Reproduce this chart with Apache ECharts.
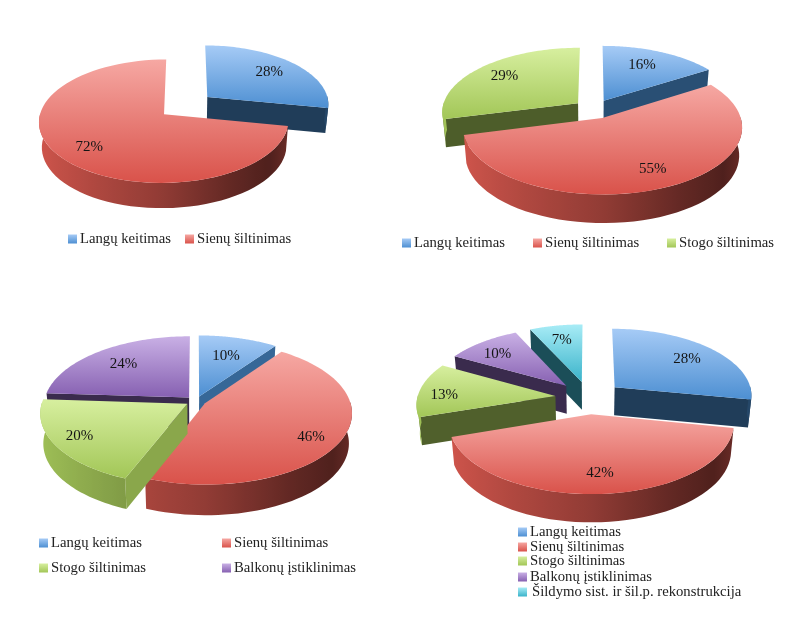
<!DOCTYPE html>
<html>
<head>
<meta charset="utf-8">
<style>html,body{margin:0;padding:0;background:#fff}#c{width:800px;height:621px}</style>
<script src="https://cdn.jsdelivr.net/npm/echarts@6/dist/echarts.min.js"></script>
</head>
<body>
<div id="c"></div>
<script>
// ---- data ----
const categories = ['Langų keitimas', 'Sienų šiltinimas', 'Stogo šiltinimas', 'Balkonų įstiklinimas', 'Šildymo sist. ir šil.p. rekonstrukcija'];
const valuesA = [28, 72];
const valuesB = [16, 55, 29];
const valuesC = [10, 46, 20, 24];
const valuesD = [28, 42, 13, 10, 7];

// ---- styles ----
const topLight = ['#a6cbf6', '#f6a8a3', '#d7ef9f', '#c9b0e5', '#a8ecf6'];
const topDeep  = ['#4d8fd2', '#d9524a', '#a2c657', '#8660b1', '#3ab3ca'];
const wallBase = ['#4a8ed0', '#dc5a50', '#a9cc5c', '#8763b3', '#3fb6cc'];

// ---- layout of the four projected discs ----
const pies = [
  {values: valuesA, cx: 186, cy: 105.5, rx: 122, ry: 59, e: 0.23, h: 25, p: 0.11, lr: [0.69, 0.72], nudge: [[2, -1], [-1, 3]]},
  {values: valuesB, cx: 594, cy: 109, rx: 136, ry: 64, e: 0.15, h: 28, p: 0.13, lr: [0.65, 0.8, 0.7], nudge: [[0, -3], [1, -3], [-4, -2]]},
  {values: valuesC, cx: 196, cy: 401, rx: 145, ry: 70, e: 0.07, h: 30, p: 0.13, lr: [0.66, 0.78, 0.83, 0.68], nudge: [[0, 0], [1, 6], [1, -1], [-3, -1]]},
  {values: valuesD, cx: 589, cy: 397.5, rx: 138, ry: 67, e: 0.245, h: 28, p: 0.11, lr: [0.72, 0.77, 0.82, 0.78, 0.72], nudge: [[2, 0], [1, -1], [0, 4], [-2, 3], [-1, 0]]}
];
const legendSpots = [
  {cat: 0, left: 68, top: 239}, {cat: 1, left: 185, top: 239},
  {cat: 0, left: 402, top: 243}, {cat: 1, left: 533, top: 243}, {cat: 2, left: 667, top: 243},
  {cat: 0, left: 39, top: 543}, {cat: 1, left: 222, top: 543},
  {cat: 2, left: 39, top: 568}, {cat: 3, left: 222, top: 568},
  {cat: 0, left: 518, top: 532}, {cat: 1, left: 518, top: 547},
  {cat: 2, left: 518, top: 561}, {cat: 3, left: 518, top: 577},
  {cat: 4, left: 518, top: 592, indent: 2}
];
const FONT = '"Liberation Serif", serif';

function shade(hex, f) {
  const n = parseInt(hex.slice(1), 16);
  const c = [(n >> 16) & 255, (n >> 8) & 255, n & 255].map(v => Math.round(v * f));
  return 'rgb(' + c.join(',') + ')';
}
// brightness of the outer wall by the horizontal part of its normal
function arcShade(nx) {
  const k = [[-1, .95], [-.5, .8], [0, .66], [.5, .45], [.8, .36], [1, .5]];
  for (let i = 1; i < k.length; i++) {
    if (nx <= k[i][0]) {
      const t = (nx - k[i - 1][0]) / (k[i][0] - k[i - 1][0]);
      return k[i - 1][1] + t * (k[i][1] - k[i - 1][1]);
    }
  }
  return .5;
}
function cutShade(nx) {
  return .43 + .45 * Math.pow(Math.max(0, nx), 2);
}

function makeRender(pie, idx) {
  const total = pie.values.reduce((a, b) => a + b, 0);
  let before = 0;
  for (let i = 0; i < idx; i++) before += pie.values[i];
  const proj = (ux, uy) => {
    const w = 1 - pie.p * uy;
    return [pie.cx + pie.rx * ux / w, pie.cy + pie.ry * uy / w];
  };
  const low = (ux, uy) => {
    const w = 1 - pie.p * uy, wb = w * 1.02;
    return [pie.cx + pie.rx * ux / wb, pie.cy + pie.ry * uy / wb + pie.h / Math.sqrt(w)];
  };
  return function (params, api) {
    const v = api.value(0);
    const a0 = before / total * 2 * Math.PI, a1 = (before + v) / total * 2 * Math.PI;
    const mid = (a0 + a1) / 2;
    const ox = pie.e * Math.sin(mid), oy = -pie.e * Math.cos(mid);
    const at = a => [ox + Math.sin(a), oy - Math.cos(a)];
    const kids = [];
    const quad = (p, q, color) => kids.push({
      type: 'polygon',
      shape: {points: [proj(p[0], p[1]), proj(q[0], q[1]), low(q[0], q[1]), low(p[0], p[1])]},
      style: {fill: color}
    });
    // cut faces
    const nE = [Math.cos(a1), Math.sin(a1)], nS = [-Math.cos(a0), -Math.sin(a0)];
    if (nS[1] > 0) quad([ox, oy], at(a0), shade(wallBase[idx], cutShade(nS[0])));
    if (nE[1] > 0) quad([ox, oy], at(a1), shade(wallBase[idx], cutShade(nE[0])));
    // outer wall
    const w0 = Math.max(a0, Math.PI / 2 - 0.02), w1 = Math.min(a1, 3 * Math.PI / 2 + 0.02);
    if (w1 > w0) {
      const n = 48, topEdge = [], lowEdge = [], samples = [];
      for (let s = 0; s <= n; s++) {
        const a = w0 + (w1 - w0) * s / n, q = at(a);
        const t = proj(q[0], q[1]);
        topEdge.push(t);
        lowEdge.unshift(low(q[0], q[1]));
        samples.push([t[0], arcShade(Math.sin(a))]);
      }
      samples.sort((m, k) => m[0] - k[0]);
      const x0 = samples[0][0], x1 = samples[n][0];
      const stops = samples.map(m => ({
        offset: x1 > x0 ? (m[0] - x0) / (x1 - x0) : 0,
        color: shade(wallBase[idx], m[1])
      }));
      kids.push({
        type: 'polygon',
        shape: {points: topEdge.concat(lowEdge)},
        style: {fill: new echarts.graphic.LinearGradient(x0, 0, x1, 0, stops, true)}
      });
    }
    // top face
    const pts = [proj(ox, oy)];
    const n = 72;
    for (let s = 0; s <= n; s++) {
      const q = at(a0 + (a1 - a0) * s / n);
      pts.push(proj(q[0], q[1]));
    }
    kids.push({
      type: 'polygon',
      shape: {points: pts},
      style: {
        fill: new echarts.graphic.LinearGradient(0, 0, 0, 1, [
          {offset: 0, color: topLight[idx]}, {offset: 1, color: topDeep[idx]}
        ])
      }
    });
    // value label
    const lr = pie.lr[idx];
    const lp = proj(ox + lr * Math.sin(mid), oy - lr * Math.cos(mid));
    kids.push({
      type: 'text',
      style: {
        text: v + '%', x: lp[0] + pie.nudge[idx][0], y: lp[1] + pie.nudge[idx][1],
        textAlign: 'center', textVerticalAlign: 'middle',
        font: '15px ' + FONT, fill: '#141414'
      }
    });
    return {type: 'group', children: kids};
  };
}

const series = [];
pies.forEach(pie => {
  const total = pie.values.reduce((a, b) => a + b, 0);
  let run = 0;
  pie.values.forEach((v, i) => {
    const mid = (run + v / 2) / total * 2 * Math.PI;
    run += v;
    series.push({
      type: 'custom',
      name: categories[i],
      coordinateSystem: 'none',
      silent: true,
      animation: false,
      z: 2 + Math.round((1 - Math.cos(mid)) * 10) / 10,
      itemStyle: {
        color: new echarts.graphic.LinearGradient(0, 0, 0, 1, [
          {offset: 0, color: topLight[i]}, {offset: 1, color: topDeep[i]}
        ])
      },
      data: [[v]],
      renderItem: makeRender(pie, i)
    });
  });
});

const legend = legendSpots.map(s => ({
  data: [categories[s.cat]],
  left: s.left,
  top: s.top - 8,
  itemWidth: 9,
  itemHeight: 9,
  icon: 'rect',
  selectedMode: false,
  padding: 0,
  textStyle: {fontFamily: FONT, fontSize: 14.7, color: '#222', padding: [0, 0, 0, (s.indent || 0) - 2], lineHeight: 16}
}));

const chart = echarts.init(document.getElementById('c'), null, {renderer: 'canvas'});
chart.setOption({backgroundColor: '#fff', animation: false, legend, series});
</script>
</body>
</html>
